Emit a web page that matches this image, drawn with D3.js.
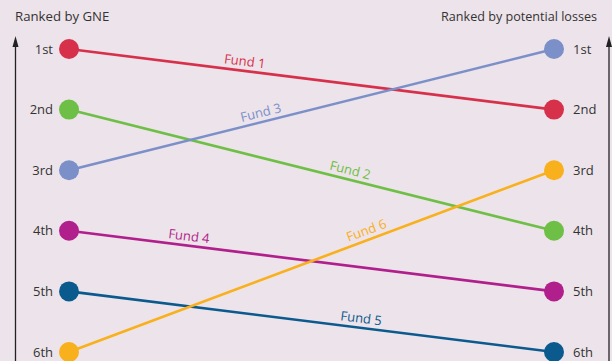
<!DOCTYPE html>
<html><head><meta charset="utf-8">
<script src="https://cdn.jsdelivr.net/npm/d3@7"></script>
<style>body{margin:0;background:#ede3ea;}svg{display:block;}</style>
</head><body><svg id="c" width="612" height="361"></svg>
<script>
const funds = ["Fund 1","Fund 2","Fund 3","Fund 4","Fund 5","Fund 6"];
const gneRank = [1,2,3,4,5,6];
const lossRank = [2,4,1,5,6,3];
const colors = ["#d7304b","#6dbf45","#7b8fc9","#b01f8c","#0b5a8e","#f8b01c"];
const labelAt = [0.36,0.575,0.40,0.245,0.60,0.62];
const rankLabels = ["1st","2nd","3rd","4th","5th","6th"];
const leftTitle = "Ranked by GNE", rightTitle = "Ranked by potential losses";

const svg = d3.select("#c");
const font = "'Open Sans', sans-serif";
const x = d3.scalePoint().domain(["gne","loss"]).range([69,554]);
const y = d3.scaleLinear().domain([1,6]).range([49,352]);

svg.append("rect").attr("width",612).attr("height",361).attr("fill","#ede3ea");

// titles
svg.append("text").attr("x",15).attr("y",21).attr("font-family",font).attr("font-size",13.2).attr("fill","#333").text(leftTitle);
svg.append("text").attr("x",597).attr("y",21).attr("text-anchor","end").attr("font-family",font).attr("font-size",12.6).attr("fill","#333").text(rightTitle);

// arrows
[15.5,609].forEach(ax=>{
  svg.append("line").attr("x1",ax).attr("x2",ax).attr("y1",361).attr("y2",40).attr("stroke","#222").attr("stroke-width",1.3);
  svg.append("path").attr("d",`M${ax-3},${47} L${ax},${36} L${ax+3},${47} Z`).attr("fill","#222");
});

// rank labels
rankLabels.forEach((r,i)=>{
  svg.append("text").attr("x",53).attr("y",y(i+1)).attr("dy","0.35em").attr("text-anchor","end")
    .attr("font-family",font).attr("font-size",13).attr("fill","#333").text(r);
  svg.append("text").attr("x",573).attr("y",y(i+1)).attr("dy","0.35em").attr("text-anchor","start")
    .attr("font-family",font).attr("font-size",13).attr("fill","#333").text(r);
});

funds.forEach((f,i)=>{
  const x1=x("gne"), y1=y(gneRank[i]), x2=x("loss"), y2=y(lossRank[i]);
  svg.append("line").attr("x1",x1).attr("y1",y1).attr("x2",x2).attr("y2",y2)
    .attr("stroke",colors[i]).attr("stroke-width",2.6);
});
funds.forEach((f,i)=>{
  const x1=x("gne"), y1=y(gneRank[i]), x2=x("loss"), y2=y(lossRank[i]);
  svg.append("circle").attr("cx",x1).attr("cy",y1).attr("r",10).attr("fill",colors[i]);
  svg.append("circle").attr("cx",x2).attr("cy",y2).attr("r",10).attr("fill",colors[i]);
  const t=labelAt[i];
  const lx=x1+(x2-x1)*t, ly=y1+(y2-y1)*t;
  const ang=Math.atan2(y2-y1,x2-x1)*180/Math.PI;
  svg.append("text").attr("transform",`translate(${lx},${ly}) rotate(${ang})`).attr("y",-5)
    .attr("text-anchor","middle").attr("font-family",font).attr("font-size",13).attr("fill",colors[i]).text(f);
});
</script></body></html>
